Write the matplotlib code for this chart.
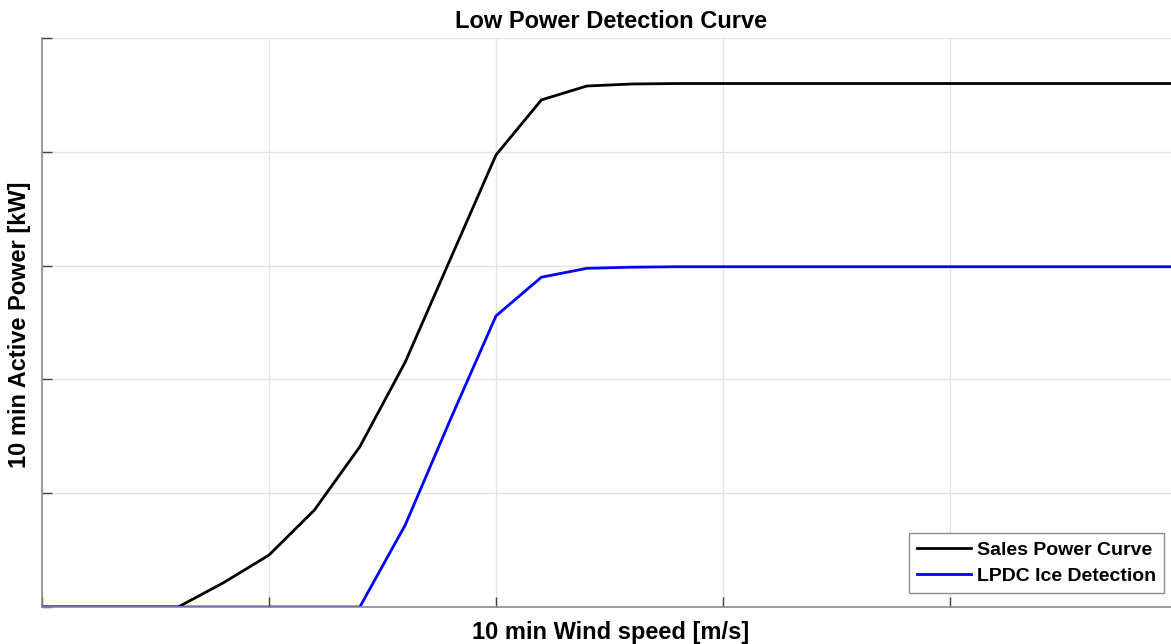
import matplotlib
matplotlib.use("Agg")
import matplotlib.pyplot as plt

plt.rcParams['font.family'] = ['Liberation Sans', 'DejaVu Sans']

wind_speed = [0, 1, 2, 3, 4, 5, 6, 7, 8, 9, 10, 11, 12, 13, 14, 15, 16, 17, 18, 19, 20, 21, 22, 23, 24, 25]
sales_power = [0, 0, 0, 0, 107, 228, 426, 704, 1076, 1531, 1986, 2228, 2289, 2298, 2300, 2300, 2300, 2300, 2300, 2300, 2300, 2300, 2300, 2300, 2300, 2300]
lpdc_power = [0, 0, 0, 0, 0, 0, 0, 0, 360, 826, 1279, 1449, 1488, 1493, 1495, 1495, 1495, 1495, 1495, 1495, 1495, 1495, 1495, 1495, 1495, 1495]

x_ticks = [0, 5, 10, 15, 20, 25]
y_ticks = [0, 500, 1000, 1500, 2000, 2500]

W, H = 1171, 644
fig = plt.figure(figsize=(W / 100, H / 100), dpi=100)
ax = fig.add_axes([42 / W, (H - 607) / H, (1177 - 42) / W, (607 - 38) / H])

ax.plot(wind_speed, sales_power, color='black', lw=2.0, label='Sales Power Curve')
ax.plot(wind_speed, lpdc_power, color='#0000ff', lw=2.0, label='LPDC Ice Detection')

ax.set_xlim(0, 25)
ax.set_ylim(0, 2500)
ax.set_xticks(x_ticks)
ax.set_yticks(y_ticks)
ax.set_xticklabels([])
ax.set_yticklabels([])
ax.tick_params(direction='in', length=7, width=1, color='#404040')
ax.grid(True, color='#e3e3e3', lw=1)
ax.set_axisbelow(True)

for s in ['top', 'right']:
    ax.spines[s].set_visible(False)
for s in ['left', 'bottom']:
    ax.spines[s].set_color('#8c8c8c')
    ax.spines[s].set_linewidth(1.2)

fig.text(611 / W, 1 - 22 / H, 'Low Power Detection Curve', ha='center', va='center',
         fontsize=17, fontweight='bold')
fig.text(611 / W, 1 - 632 / H, '10 min Wind speed [m/s]', ha='center', va='center',
         fontsize=17, fontweight='bold')
fig.text(20 / W, 1 - 325 / H, '10 min Active Power [kW]', ha='center', va='center',
         rotation=90, fontsize=17, fontweight='bold')

leg = ax.legend(loc='lower right', bbox_to_anchor=(1164 / W, (H - 593) / H),
                bbox_transform=fig.transFigure, borderaxespad=0, fancybox=False,
                framealpha=1, edgecolor='#8c8c8c', prop={'weight': 'bold', 'size': 14},
                handlelength=2.8, handletextpad=0.3, labelspacing=0.45, borderpad=0.4)
leg.get_frame().set_linewidth(1)

fig.savefig('out.png', dpi=100)
